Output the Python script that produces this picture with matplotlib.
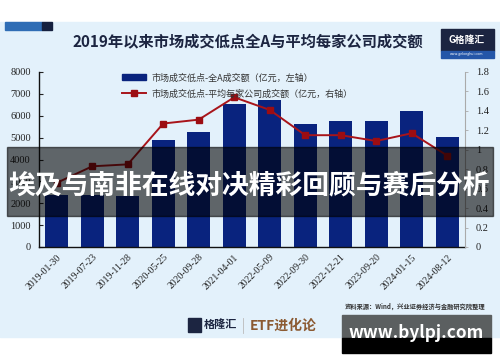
import matplotlib.pyplot as plt
import matplotlib.patches as mpatches
from matplotlib.lines import Line2D
from matplotlib.ticker import FuncFormatter
import numpy as np

plt.rcParams['font.family'] = ['Noto Sans CJK SC', 'DejaVu Sans']

# data
dates = ['2019-01-30', '2019-07-23', '2019-11-28', '2020-05-25', '2020-09-28', '2021-04-01',
         '2022-05-09', '2022-09-30', '2022-12-21', '2023-09-20', '2024-01-15', '2024-08-12']
turnover = [2380, 2400, 2330, 4870, 5250, 6520, 6730, 5630, 5760, 5740, 6200, 5010]
per_company = [0.66, 0.83, 0.85, 1.27, 1.31, 1.54, 1.41, 1.15, 1.15, 1.09, 1.17, 0.94]

bar_label = '市场成交低点-全A成交额（亿元，左轴）'
line_label = '市场成交低点-平均每家公司成交额（亿元，右轴）'
title = '2019年以来市场成交低点全A与平均每家公司成交额'
banner = '埃及与南非在线对决精彩回顾与赛后分析'
source = '资料来源：Wind，兴业证券经济与金融研究院整理'

W, H = 500, 362
BG = '#e3f1fb'
NAVY = '#09237e'
RED = '#a8141a'


def fx(x):
    return x / W


def fy(y):
    return 1 - y / H


def rect(x0, y0, x1, y1, **kw):
    # rectangle given in pixel coords (top-left origin)
    return mpatches.Rectangle((fx(x0), fy(y1)), fx(x1 - x0), (y1 - y0) / H,
                              transform=fig.transFigure, **kw)


fig = plt.figure(figsize=(5, 3.62), dpi=100)
fig.patch.set_facecolor('white')

# light blue panel and header decorations
fig.add_artist(rect(0, 22, 500, 337, color=BG, zorder=-5))
fig.add_artist(rect(5, 22, 42, 30, color='#2f6db5', zorder=-4))
fig.add_artist(rect(42, 22, 52, 30, color='#15203f', zorder=-4))

fig.text(fx(248), fy(42), title, ha='center', va='center', fontsize=11,
         fontweight='bold', color='#1c2541')

# top right logo
fig.add_artist(rect(441, 29, 494, 51, color='#1c2541', zorder=-4))
fig.add_artist(rect(441, 51, 494, 58, color='#2456a8', zorder=-4))
fig.text(fx(467), fy(40), 'G格隆汇', ha='center', va='center', fontsize=7,
         fontweight='bold', color='white')
fig.text(fx(467), fy(54.5), 'www.gelonghui.com', ha='center', va='center',
         fontsize=2.5, color='white')

# main axes
ax = fig.add_axes([fx(39), fy(247), fx(465 - 39), (247 - 72) / H])
ax.set_facecolor('none')
x = np.arange(len(dates))
ax.bar(x, turnover, width=0.65, color=NAVY, zorder=2)
ax.set_xlim(-0.5, 11.5)
ax.set_ylim(0, 8000)
ax.set_yticks(range(0, 8001, 1000))
ax.set_xticks(x)
ax.set_xticklabels(dates, rotation=45, ha='right', va='top', rotation_mode='anchor',
                   fontsize=7, family='Liberation Serif', color='#222222')
ax.tick_params(axis='x', length=0, pad=4)
ax.tick_params(axis='y', direction='in', length=3, width=0.8, labelsize=7.5,
               pad=6, colors='#222222')
for lab in ax.get_yticklabels():
    lab.set_family('Liberation Serif')
ax.spines['top'].set_visible(False)
ax.spines['right'].set_visible(False)
ax.spines['left'].set_color('#111111')
ax.spines['bottom'].set_color('#111111')
ax.spines['left'].set_linewidth(1.0)
ax.spines['bottom'].set_linewidth(1.0)

ax2 = ax.twinx()
ax2.plot(x, per_company, color=RED, linewidth=1.4, marker='s', markersize=5,
         markerfacecolor='#9c0d12', markeredgecolor='#9c0d12', zorder=3)
ax2.set_ylim(0, 1.8)
ax2.set_yticks(np.arange(0, 1.81, 0.2))
ax2.yaxis.set_major_formatter(FuncFormatter(lambda v, p: '%g' % round(v, 1)))
ax2.tick_params(axis='y', direction='out', length=2, width=0.6, labelsize=7.5,
                pad=6, colors='#aaaaaa')
for lab in ax2.get_yticklabels():
    lab.set_family('Liberation Serif')
    lab.set_color('#222222')
for s in ['top', 'left', 'bottom']:
    ax2.spines[s].set_visible(False)
ax2.spines['right'].set_color('#aaaaaa')
ax2.spines['right'].set_linewidth(0.8)

handles = [mpatches.Patch(color=NAVY),
           Line2D([], [], color=RED, linewidth=1.4, marker='s', markersize=5,
                  markerfacecolor='#9c0d12', markeredgecolor='#9c0d12')]
ax2.legend(handles, [bar_label, line_label], loc='upper left',
           bbox_to_anchor=(fx(114), fy(65)), bbox_transform=fig.transFigure,
           frameon=False, fontsize=6.5, handlelength=2.6, handleheight=0.6,
           labelspacing=0.75, handletextpad=0.6, labelcolor='#333333')

# source note and footer logos
fig.text(fx(485), fy(306), source, ha='right', va='center', fontsize=4.5,
         color='#333333', fontweight='bold')
fig.add_artist(rect(188, 318, 201, 332, color='#1c2541'))
fig.text(fx(204), fy(324), '格隆汇', ha='left', va='center', fontsize=8,
         color='#1c2541', fontweight='bold')
fig.add_artist(Line2D([fx(243), fx(243)], [fy(318), fy(333)], color='#bbbbbb',
                      linewidth=0.6, transform=fig.transFigure))
fig.text(fx(250), fy(326), 'ETF进化论', ha='left', va='center', fontsize=10,
         color='#8b5a32', fontweight='bold')

# overlay banner (it covers the axes in the original too)
fig.add_artist(rect(7, 147, 493, 216, color='black', alpha=0.58, zorder=10))
fig.text(fx(249), fy(185), banner, ha='center', va='center', fontsize=19.3,
         fontweight='bold', color='white', zorder=11)

# watermark box
fig.add_artist(rect(342, 315, 491, 338, color='#5b5f60', zorder=10))
fig.add_artist(rect(342, 338, 491, 353, color='black', zorder=10))
fig.text(fx(416), fy(333), 'www.bylpj.com', ha='center', va='center', fontsize=12.4,
         fontweight='bold', color='white', zorder=11)

fig.savefig('out.png', dpi=100)
